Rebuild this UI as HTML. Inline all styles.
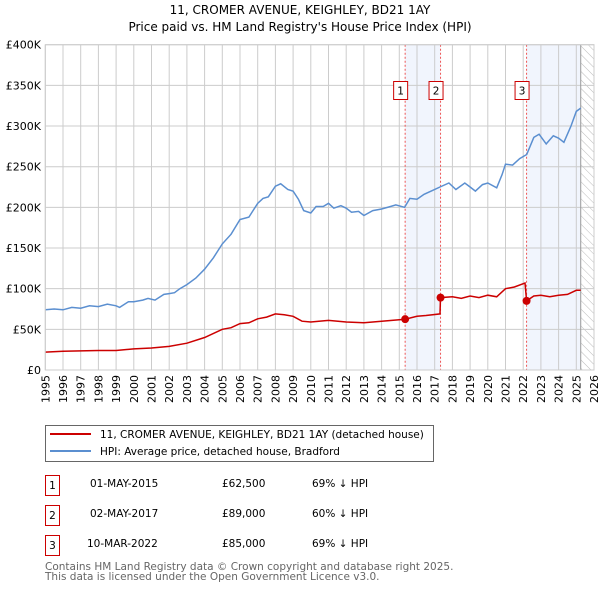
<!DOCTYPE html>
<html><head><meta charset="utf-8"><style>
body{margin:0;background:#fff;font-family:"DejaVu Sans","Liberation Sans",sans-serif;}
svg text{font-family:"DejaVu Sans","Liberation Sans",sans-serif;}
</style></head><body>
<svg id="c" width="600" height="590" viewBox="0 0 600 590">
<defs><pattern id="hatch" width="6" height="6" patternUnits="userSpaceOnUse" patternTransform="rotate(-45)"><line x1="0" y1="0" x2="0" y2="6" stroke="#bbb" stroke-width="1"/></pattern></defs>
<text x="300" y="14" text-anchor="middle" font-size="12">11, CROMER AVENUE, KEIGHLEY, BD21 1AY</text>
<text x="300" y="31" text-anchor="middle" font-size="12">Price paid vs. HM Land Registry's House Price Index (HPI)</text>
<g id="plot"></g>
<g>
<rect x="45.5" y="425.5" width="388" height="36" fill="#fff" stroke="#666"/>
<line x1="50" y1="434" x2="91" y2="434" stroke="#cc0000" stroke-width="2"/>
<text x="100" y="438" font-size="10.5">11, CROMER AVENUE, KEIGHLEY, BD21 1AY (detached house)</text>
<line x1="50" y1="451" x2="91" y2="451" stroke="#5b8fd0" stroke-width="2"/>
<text x="100" y="455" font-size="10.5">HPI: Average price, detached house, Bradford</text>
</g>
<g font-size="10.5">
<rect x="45.5" y="475.5" width="14" height="20" fill="#fff" stroke="#cc0000"/><text x="52.5" y="489" text-anchor="middle">1</text>
<text x="90" y="487">01-MAY-2015</text><text x="222" y="487">£62,500</text><text x="312" y="487">69% ↓ HPI</text>
<rect x="45.5" y="505.5" width="14" height="20" fill="#fff" stroke="#cc0000"/><text x="52.5" y="519" text-anchor="middle">2</text>
<text x="90" y="517">02-MAY-2017</text><text x="222" y="517">£89,000</text><text x="312" y="517">60% ↓ HPI</text>
<rect x="45.5" y="535.5" width="14" height="20" fill="#fff" stroke="#cc0000"/><text x="52.5" y="549" text-anchor="middle">3</text>
<text x="87" y="547">10-MAR-2022</text><text x="222" y="547">£85,000</text><text x="312" y="547">69% ↓ HPI</text>
</g>
<text x="45" y="570" font-size="10.5" fill="#666">Contains HM Land Registry data © Crown copyright and database right 2025.</text>
<text x="45" y="580" font-size="10.5" fill="#666">This data is licensed under the Open Government Licence v3.0.</text>
</svg>
<script>
const hpiYears=[1995,1995.5,1996,1996.5,1997,1997.5,1998,1998.5,1999,1999.2,1999.7,2000,2000.5,2000.8,2001.2,2001.7,2002,2002.3,2002.6,2003,2003.5,2004,2004.5,2005,2005.5,2006,2006.5,2007,2007.3,2007.6,2008,2008.3,2008.7,2009,2009.3,2009.6,2010,2010.3,2010.7,2011,2011.3,2011.7,2012,2012.3,2012.7,2013,2013.5,2014,2014.5,2014.8,2015.3,2015.6,2016,2016.4,2016.8,2017.3,2017.8,2018.2,2018.7,2019,2019.3,2019.7,2020,2020.5,2020.8,2021,2021.4,2021.8,2022.2,2022.6,2022.9,2023.3,2023.7,2024,2024.3,2024.7,2025,2025.25];
const hpiValues=[74,75,74,77,76,79,78,81,79,77,84,84,86,88,86,93,94,95,100,105,113,124,138,155,167,185,188,205,211,213,226,229,222,220,210,196,193,201,201,205,199,202,199,194,195,190,196,198,201,203,200,211,210,216,220,225,230,222,230,225,220,228,230,224,240,253,252,260,265,286,290,278,288,285,280,300,318,322];
const priceYears=[1995,1996,1998,1999,2000,2001,2002,2003,2004,2005,2005.5,2006,2006.5,2007,2007.5,2008,2008.5,2009,2009.5,2010,2011,2012,2013,2014,2015.33,2016,2016.5,2017.3,2017.33,2018,2018.5,2019,2019.5,2020,2020.5,2021,2021.5,2022.1,2022.19,2022.6,2023,2023.5,2024,2024.5,2025,2025.25];
const priceValues=[22,23,24,24,26,27,29,33,40,50,52,57,58,63,65,69,68,66,60,59,61,59,58,60,62.5,66,67,69,89,90,88,91,89,92,90,100,102,107,85,91,92,90,92,93,98,98];
const saleYears=[2015.33,2017.33,2022.19];
const saleValues=[62.5,89,85];
const saleLabels=["1","2","3"];
const yTicks=[0,50,100,150,200,250,300,350,400];
const yTickLabels=["£0","£50K","£100K","£150K","£200K","£250K","£300K","£350K","£400K"];
const xTicks=[1995,1996,1997,1998,1999,2000,2001,2002,2003,2004,2005,2006,2007,2008,2009,2010,2011,2012,2013,2014,2015,2016,2017,2018,2019,2020,2021,2022,2023,2024,2025,2026];
const dataEnd=2025.25;

const X0=45.3,X1=594,Y0=370,Y1=44.7;
const x=v=>X0+(v-1995)/(2026-1995)*(X1-X0);
const y=v=>Y0-(v/400)*(Y0-Y1);
const NS="http://www.w3.org/2000/svg";
const g=document.getElementById('plot');
function mk(t,a,p){const e=document.createElementNS(NS,t);for(const k in a)e.setAttribute(k,a[k]);(p||g).appendChild(e);return e;}

let e=mk('rect',{x:x(saleYears[0]),y:Y1,width:x(saleYears[1])-x(saleYears[0]),height:Y0-Y1,fill:'#eef3fc',opacity:0.8});

e=mk('rect',{x:x(saleYears[2]),y:Y1,width:x(dataEnd)-x(saleYears[2]),height:Y0-Y1,fill:'#eef3fc',opacity:0.8});

e=mk('rect',{x:x(dataEnd),y:Y1,width:X1-x(dataEnd),height:Y0-Y1,fill:'url(#hatch)'});


xTicks.forEach(t=>{const l=mk('line',{x1:x(t),x2:x(t),y1:Y1,y2:Y0,stroke:'#ccc','stroke-width':1});

const gg=mk('g',{transform:'translate('+(x(t)+4).toFixed(1)+',375) rotate(-90)'});
const tx=mk('text',{x:0,y:0,'font-size':11,'text-anchor':'end'},gg);tx.textContent=t;
});
yTicks.forEach((t,i)=>{const l=mk('line',{x1:X0,x2:X1,y1:y(t),y2:y(t),stroke:'#ccc','stroke-width':1});

const tx=mk('text',{x:41,y:y(t)+4,'font-size':11,'text-anchor':'end'});tx.textContent=yTickLabels[i];
});
e=mk('line',{x1:x(dataEnd),x2:x(dataEnd),y1:Y1,y2:Y0,stroke:'#999','stroke-width':1});


saleYears.forEach(s=>{const l=mk('line',{x1:x(s),x2:x(s),y1:Y1,y2:Y0,stroke:'#e55','stroke-width':1,'stroke-dasharray':'2,2'});
});

const pts=(xs,vs)=>xs.map((t,i)=>x(t).toFixed(1)+','+y(vs[i]).toFixed(1)).join(' ');
e=mk('polyline',{points:pts(hpiYears,hpiValues),fill:'none',stroke:'#5b8fd0','stroke-width':1.5});

e=mk('polyline',{points:pts(priceYears,priceValues),fill:'none',stroke:'#cc0000','stroke-width':1.5});


saleYears.forEach((s,i)=>{const c=mk('circle',{cx:x(s),cy:y(saleValues[i]),r:4,fill:'#cc0000'});

const r=mk('rect',{x:x(s)-11.5,y:81.5,width:14,height:18,fill:'#fff',stroke:'#cc0000'});

const t=mk('text',{x:x(s)-4.5,y:94.5,'font-size':10.5,'text-anchor':'middle'});t.textContent=saleLabels[i];
});

e=mk('rect',{x:X0,y:Y1,width:X1-X0,height:Y0-Y1,fill:'none',stroke:'#ccc'});

</script>
</body></html>
